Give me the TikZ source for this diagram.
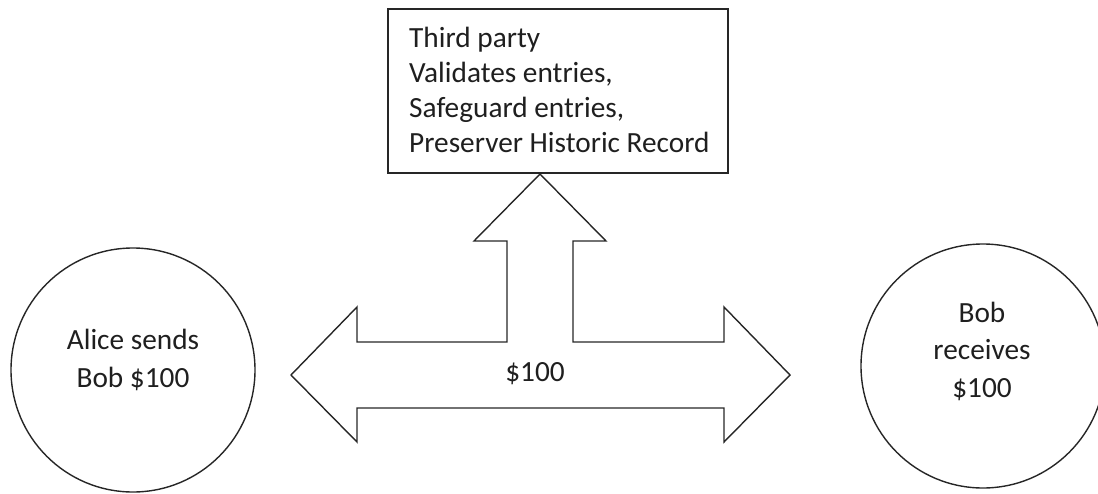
\documentclass[tikz,border=0pt]{standalone}
\usepackage{fontspec}
\setmainfont{Carlito}
\begin{document}
\begin{tikzpicture}[x=1pt,y=-1pt,
  outline/.style={draw=black!85, line width=1.4pt},
  txt/.style={text=black!88, inner sep=0pt, font=\fontsize{29.3}{37.5}\selectfont},
  boxtxt/.style={txt, font=\fontsize{29.3}{35}\selectfont, align=left},
  circtxt/.style={txt, align=center}]
\useasboundingbox (0,0) rectangle (1098,493);

% third party box (text anchored at the baseline of its last line)
\node[outline, rectangle, minimum width=340pt, minimum height=164pt, inner sep=0pt] (tp) at (558,91) {};
\node[boxtxt, anchor=base west] (tptext) at (409,152)
  {Third party\\Validates entries,\\Safeguard entries,\\Preserver Historic Record};

% participants
\node[outline, circle, minimum size=244pt, inner sep=0pt] (alice) at (133,370) {};
\node[circtxt, anchor=base] (alicetext) at (133,387) {Alice sends\\Bob \$100};

\node[outline, circle, minimum size=244pt, inner sep=0pt] (bob) at (983,366) {};
\node[circtxt, anchor=base] (bobtext) at (982,397) {Bob\\receives\\\$100};

% three-way block arrow
\draw[outline, line join=miter]
  (540,174) -- (606,241) -- (573,241) -- (573,342) -- (724,342) -- (724,307)
  -- (790,375) -- (724,442) -- (724,408) -- (357,408) -- (357,442)
  -- (291,375) -- (357,307) -- (357,342) -- (507,342) -- (507,241)
  -- (474,241) -- cycle;
\node[txt, anchor=base] (amount) at (535,381) {\$100};
\end{tikzpicture}
\end{document}
